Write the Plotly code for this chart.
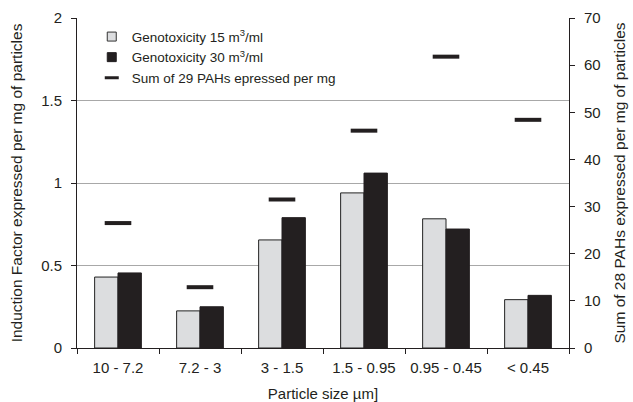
import plotly.graph_objects as go

categories = ["10 - 7.2", "7.2 - 3", "3 - 1.5", "1.5 - 0.95", "0.95 - 0.45", "< 0.45"]
geno15 = [0.43, 0.225, 0.655, 0.94, 0.783, 0.293]
geno30 = [0.455, 0.25, 0.79, 1.06, 0.721, 0.319]
pahs = [26.5, 12.9, 31.5, 46.1, 61.8, 48.4]
left_ticks = [0, 0.5, 1, 1.5, 2]
left_labels = ["0", "0.5", "1", "1.5", "2"]
grid_vals = [0.5, 1, 1.5]
right_ticks = [0, 10, 20, 30, 40, 50, 60, 70]
names = ["Genotoxicity 15 m<sup>3</sup>/ml", "Genotoxicity 30 m<sup>3</sup>/ml",
         "Sum of 29 PAHs epressed per mg"]

FONT = "Liberation Sans, Arial, sans-serif"
DARK = "#231f20"
LIGHT = "#dcdddf"

fig = go.Figure()
# grid-only axis trace (drawn first)
fig.add_trace(go.Scatter(x=[categories[0]], y=[None], yaxis="y3", showlegend=False,
                         hoverinfo="skip"))
fig.add_trace(go.Bar(x=categories, y=geno15, name=names[0], showlegend=False,
                     marker=dict(color=LIGHT, line=dict(color="#222", width=1))))
fig.add_trace(go.Bar(x=categories, y=geno30, name=names[1], showlegend=False,
                     marker=dict(color=DARK, line=dict(color=DARK, width=1))))
fig.add_trace(go.Scatter(x=categories, y=pahs, yaxis="y2", mode="markers",
                         name=names[2], showlegend=False,
                         marker=dict(symbol="line-ew", size=19, color=DARK,
                                     line=dict(color=DARK, width=4))))
# legend entries
fig.add_trace(go.Scatter(x=[categories[0]], y=[None], mode="markers", name=names[0],
                         marker=dict(symbol="square", size=9, color=LIGHT,
                                     line=dict(color="#333", width=1))))
fig.add_trace(go.Scatter(x=[categories[0]], y=[None], mode="markers", name=names[1],
                         marker=dict(symbol="square", size=9, color=DARK,
                                     line=dict(color=DARK, width=1))))
fig.add_trace(go.Scatter(x=[categories[0]], y=[None], mode="markers", name=names[2],
                         marker=dict(symbol="line-ew", size=10, color=DARK,
                                     line=dict(color=DARK, width=3))))

fig.update_layout(
    width=633, height=402,
    margin=dict(l=77, r=64, t=18, b=54),
    paper_bgcolor="white", plot_bgcolor="white",
    font=dict(family=FONT, size=15, color=DARK),
    barmode="group", bargap=0.43, bargroupgap=0,
    showlegend=True,
    legend=dict(x=0.03, y=0.99, xanchor="left", yanchor="top",
                font=dict(size=13.5), bgcolor="rgba(0,0,0,0)", itemwidth=30,
                tracegroupgap=0),
    xaxis=dict(showline=True, linecolor=DARK, linewidth=1, automargin=False,
               ticks="outside", tickson="boundaries", ticklen=5, tickcolor=DARK,
               ticklabelstandoff=6,
               title=dict(text="Particle size µm]", standoff=13, font=dict(size=15)),
               tickfont=dict(size=15)),
    yaxis=dict(range=[0, 2], tickvals=left_ticks, ticktext=left_labels, automargin=False,
               showline=True, linecolor=DARK, linewidth=1,
               ticks="outside", ticklen=5, tickcolor=DARK, ticklabelstandoff=6,
               showgrid=False, zeroline=False,
               title=dict(text="Induction Factor expressed per mg of particles",
                          standoff=14, font=dict(size=15.5)),
               tickfont=dict(size=15)),
    yaxis2=dict(range=[0, 70], tickvals=right_ticks, overlaying="y", side="right",
                automargin=False,
                showline=True, linecolor=DARK, linewidth=1,
                ticks="outside", ticklen=5, tickcolor=DARK, ticklabelstandoff=6,
                showgrid=False, zeroline=False,
                title=dict(text="Sum of 28 PAHs expressed per mg of particles",
                           standoff=14, font=dict(size=15.5)),
                tickfont=dict(size=15)),
    yaxis3=dict(range=[0, 2], tickvals=grid_vals, overlaying="y", showticklabels=False,
                showgrid=True, gridcolor="#a8a8a8", gridwidth=1, zeroline=False,
                showline=False, ticks="", automargin=False),
)

fig.write_html("out.html", config={"displayModeBar": False},
               post_script="document.body.style.margin='0';document.body.style.overflow='hidden';")
